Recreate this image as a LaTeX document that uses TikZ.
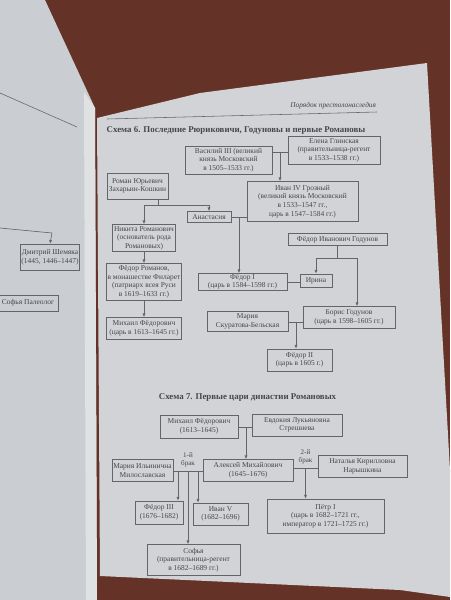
\documentclass[tikz,border=0pt]{standalone}
\usepackage{fontspec}
\setmainfont{Liberation Serif}
\usetikzlibrary{arrows.meta,calc}
\definecolor{table}{HTML}{653227}
\definecolor{paper}{HTML}{D1D3D6}
\definecolor{leftpaper}{HTML}{CACDD2}
\definecolor{edge}{HTML}{E0E1E3}
\definecolor{ink}{HTML}{46464C}
\definecolor{frame}{HTML}{64656A}
\tikzset{person/.style={draw=frame,line width=0.5pt,text=ink,align=center,inner sep=0.5pt,font=\fontsize{5.3}{6.1}\selectfont}}
\tikzset{link/.style={draw=frame,line width=0.45pt}}
\tikzset{note/.style={text=ink,align=center,inner sep=0.3pt,font=\fontsize{5}{5.8}\selectfont}}
\tikzset{caption/.style={text=ink,inner sep=0pt,font=\fontsize{6.3}{7}\selectfont\bfseries}}
\tikzset{runhead/.style={text=ink,inner sep=0.5pt,font=\fontsize{5.2}{6}\selectfont\itshape}}

\begin{document}
\begin{tikzpicture}[x=0.025cm,y=-0.025cm,>={Latex[length=2.6pt,width=2.2pt]}]
    \useasboundingbox (0,0) rectangle (450,600);

    % table and the two pages
    \fill[table] (0,0) rectangle (450,600);
    \fill[leftpaper] (0,0) -- (45,0) -- (95,108) -- (97,600) -- (0,600) -- cycle;
    \fill[paper] (97,118) -- (200,93) -- (427,63) -- (450,470) -- (450,597)
        -- (400,590) -- (100,576) -- cycle;
    \fill[edge] (84,92) -- (95,108) -- (97,600) -- (86,600) -- cycle;

    % left page
    \draw[frame] (0,93) -- (77,127);
    \node[person,minimum width=1.45cm,minimum height=0.65cm] (shemyaka) at (50,257)
    {Дмитрий Шемяка\\(1445, 1446--1447)};
    \node[person,minimum width=1.5cm,minimum height=0.4cm] (paleolog) at (28,303)
    {Софья Палеолог};
    \coordinate (lftbar) at (52,233);
    \draw[link] (0,228) -- (lftbar);
    \draw[link,->] (lftbar) -- (shemyaka.north);

    % header
    \node[runhead,anchor=south east] (running) at (377,110) {Порядок престолонаследия};
    \draw[frame] (107,119) -- (377,112);
    \node[caption] (title6) at (236,131)
    {Схема 6. Последние Рюриковичи, Годуновы и первые Романовы};

    % scheme 6
    \node[person,minimum width=2.175cm,minimum height=0.7cm] (vasily3) at (228.5,160)
    {Василий III (великий\\князь Московский\\в 1505--1533 гг.)};
    \node[person,minimum width=2.3cm,minimum height=0.7cm] (elena) at (334,150)
    {Елена Глинская\\(правительница-регент\\в 1533--1538 гг.)};
    \node[person,minimum width=2.775cm,minimum height=1cm] (ivan4) at (302.5,201.5)
    {Иван IV Грозный\\(великий князь Московский\\в 1533--1547 гг.,\\царь в 1547--1584 гг.)};
    \node[person,minimum width=1.525cm,minimum height=0.65cm] (roman) at (137.5,186)
    {Роман Юрьевич\\Захарьин-Кошкин};
    \node[person,minimum width=1.1cm,minimum height=0.275cm] (anast) at (209,217)
    {Анастасия};
    \node[person,minimum width=1.575cm,minimum height=0.675cm] (nikita) at (144,238)
    {Никита Романович\\(основатель рода\\Романовых)};
    \node[person,minimum width=1.875cm,minimum height=0.925cm] (filaret) at (144,282)
    {Фёдор Романов,\\в монашестве Филарет\\(патриарх всея Руси\\в 1619--1633 гг.)};
    \node[person,minimum width=1.875cm,minimum height=0.55cm] (mikhail6) at (144,328.5)
    {Михаил Фёдорович\\(царь в 1613--1645 гг.)};
    \node[person,minimum width=2.225cm,minimum height=0.425cm] (fedor1) at (242.5,282)
    {Фёдор I\\(царь в 1584--1598 гг.)};
    \node[person,minimum width=0.8cm,minimum height=0.325cm] (irina) at (316,280.5)
    {Ирина};
    \node[person,minimum width=2.475cm,minimum height=0.3cm] (godunov) at (337.5,239.5)
    {Фёдор Иванович Годунов};
    \node[person,minimum width=2.3cm,minimum height=0.55cm] (boris) at (349,317.5)
    {Борис Годунов\\(царь в 1598--1605 гг.)};
    \node[person,minimum width=2.025cm,minimum height=0.5cm] (maria6) at (247.5,321.5)
    {Мария\\Скуратова-Бельская};
    \node[person,minimum width=1.625cm,minimum height=0.55cm] (fedor2) at (299.5,360)
    {Фёдор II\\(царь в 1605 г.)};

    \coordinate (wed1) at (280,152);
    \draw[link] (vasily3.east |- wed1) -- (elena.west |- wed1);
    \draw[link,->] (wed1) -- (wed1 |- ivan4.north);

    \coordinate (fork1) at (158,205);
    \draw[link] (roman.south -| fork1) -- (fork1);
    \draw[link,->] (fork1) -| (nikita.north);
    \draw[link,->] (fork1) -| (anast.north);

    \draw[link] (anast.east) -- (anast.east -| ivan4.west);
    \coordinate (wed2) at ($(anast.east)!0.5!(anast.east -| ivan4.west)$);
    \draw[link,->] (wed2) -- (wed2 |- fedor1.north);

    \draw[link,->] (nikita) -- (filaret);
    \draw[link,->] (filaret) -- (mikhail6);

    \draw[link] (fedor1.east) -- (fedor1.east -| irina.west);
    \coordinate (fork2) at (337,258);
    \draw[link] (godunov.south -| fork2) -- (fork2);
    \draw[link,->] (fork2) -| (irina.north);
    \draw[link,->] (fork2) -| ([xshift=0.2cm]boris.north);

    \coordinate (wed3) at (296,322);
    \draw[link] (maria6.east |- wed3) -- (boris.west |- wed3);
    \draw[link,->] (wed3) -- (wed3 |- fedor2.north);

    % scheme 7
    \node[caption] (title7) at (247.5,397.5) {Схема 7. Первые цари династии Романовых};

    \node[person,minimum width=1.95cm,minimum height=0.575cm] (mikhail7) at (199,426.5)
    {Михаил Фёдорович\\(1613--1645)};
    \node[person,minimum width=2.25cm,minimum height=0.55cm] (evdokia) at (297,425)
    {Евдокия Лукьяновна\\Стрешнева};
    \node[person,minimum width=2.25cm,minimum height=0.55cm] (alexei) at (248,470.5)
    {Алексей Михайлович\\(1645--1676)};
    \node[person,minimum width=1.525cm,minimum height=0.55cm] (maria7) at (142.5,470.5)
    {Мария Ильинична\\Милославская};
    \node[person,minimum width=2.225cm,minimum height=0.55cm] (natalya) at (362.5,466.5)
    {Наталья Кирилловна\\Нарышкина};
    \node[person,minimum width=1.2cm,minimum height=0.575cm] (fedor3) at (159,512.5)
    {Фёдор III\\(1676--1682)};
    \node[person,minimum width=1.375cm,minimum height=0.55cm] (ivan5) at (220.5,514)
    {Иван V\\(1682--1696)};
    \node[person,minimum width=2.925cm,minimum height=0.85cm] (pyotr) at (325.5,516)
    {Пётр I\\(царь в 1682--1721 гг.,\\император в 1721--1725 гг.)};
    \node[person,minimum width=2.325cm,minimum height=0.775cm] (sofia) at (193.5,560)
    {Софья\\(правительница-регент\\в 1682--1689 гг.)};

    \coordinate (wed4) at (246,427);
    \draw[link] (mikhail7.east |- wed4) -- (evdokia.west |- wed4);
    \draw[link,->] (wed4) -- (wed4 |- alexei.north);

    \coordinate (wed6) at (188,471);
    \draw[link] (maria7.east |- wed6) -- (alexei.west |- wed6);
    \node[note,anchor=south] (brak1) at (188,468) {1-й\\брак};
    \coordinate (tofedor) at (178,471);
    \coordinate (toivan) at (198,471);
    \draw[link,->] (tofedor) -- (tofedor |- fedor3.north);
    \draw[link,->] (toivan) -- (toivan |- ivan5.north);
    \draw[link,->] (wed6) -- (wed6 |- sofia.north);

    \coordinate (wed5) at (305.5,468);
    \draw[link] (alexei.east |- wed5) -- (natalya.west |- wed5);
    \node[note,anchor=south] (brak2) at (305.5,465) {2-й\\брак};
    \draw[link,->] (wed5) -- (wed5 |- pyotr.north);
\end{tikzpicture}
\end{document}
